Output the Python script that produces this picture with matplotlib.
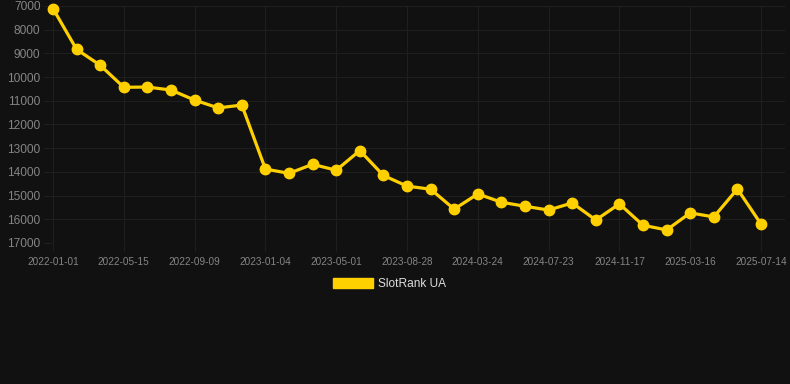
import matplotlib
matplotlib.use("Agg")
import matplotlib.pyplot as plt
from matplotlib.patches import Patch

# Data
tick_labels = ["2022-01-01", "2022-05-15", "2022-09-09", "2023-01-04", "2023-05-01",
               "2023-08-28", "2024-03-24", "2024-07-23", "2024-11-17", "2025-03-16",
               "2025-07-14"]
ranks = [7110, 8830, 9500, 10430, 10420, 10545, 10970, 11300, 11180, 13880,
         14060, 13680, 13930, 13100, 14150, 14600, 14730, 15570, 14930, 15280,
         15450, 15610, 15310, 16030, 15350, 16250, 16450, 15730, 15900, 14720,
         16200]
series_name = "SlotRank UA"
y_ticks = list(range(7000, 17001, 1000))

BG = "#111111"
GRID = "#1f1f1f"
TICK = "#858585"
LINE = "#FFD000"

plt.rcParams["font.family"] = ["Liberation Sans", "DejaVu Sans"]

W, H = 790, 384
fig = plt.figure(figsize=(W / 100, H / 100), dpi=100, facecolor=BG)
ax = fig.add_axes([53 / W, 1 - 243 / H, (785 - 53) / W, (243 - 6) / H], facecolor=BG)

x = list(range(len(ranks)))
ax.plot(x, ranks, color=LINE, lw=2.3, marker="o", markersize=7.5,
        markerfacecolor=LINE, markeredgecolor=LINE, clip_on=False, zorder=3)

step = 3
ax.set_xticks(list(range(0, len(ranks), step))[:len(tick_labels)])
ax.set_xticklabels(tick_labels)
ax.set_xlim(0, (785 - 53) / ((761 - 53) / 30))
ax.set_yticks(y_ticks)
ax.set_yticklabels([str(v) for v in y_ticks])
ax.set_ylim(17000, 7000)

ax.grid(True, color=GRID, lw=0.8)
ax.set_axisbelow(True)
for s in ax.spines.values():
    s.set_visible(False)

ax.tick_params(axis="y", colors=GRID, length=7, width=0.8, pad=2, labelsize=8.6,
               labelcolor=TICK)
ax.tick_params(axis="x", colors=GRID, length=6, width=0.8, pad=4, labelsize=7.2,
               labelcolor=TICK)

handle = Patch(facecolor=LINE, edgecolor=LINE)
fig.legend(handles=[handle], labels=[series_name], loc="center",
           bbox_to_anchor=(389.5 / W, 1 - 284 / H), frameon=False,
           fontsize=8.6, labelcolor="#dddddd", handlelength=3.4,
           handleheight=0.9, handletextpad=0.45)

fig.savefig("out.png", dpi=100, facecolor=BG)
